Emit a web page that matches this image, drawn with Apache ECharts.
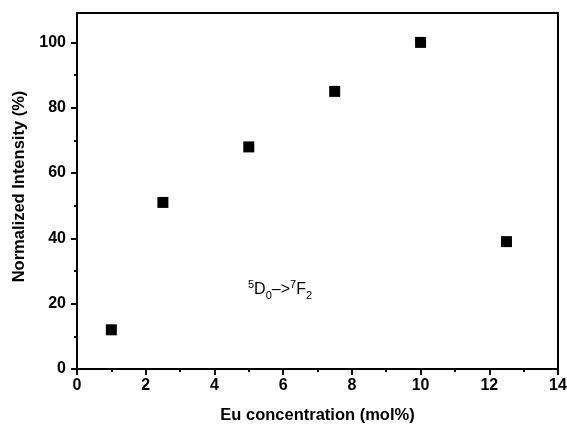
<!DOCTYPE html>
<html>
<head>
<meta charset="utf-8">
<script src="https://cdn.jsdelivr.net/npm/echarts@6/dist/echarts.min.js"></script>
<style>
  html, body { margin: 0; padding: 0; background: #fff; }
  #chart { width: 567px; height: 427px; }
</style>
</head>
<body>
<div id="chart"></div>
<script>
// Eu concentration vs normalized intensity
var concentration = [1, 2.5, 5, 7.5, 10, 12.5]
var intensity = [12, 51, 68, 85, 100, 39]
var yMajorTicks = [0, 20, 40, 60, 80, 100]
var yMinorTicks = [10, 30, 50, 70, 90]

var font = 'Arial, "Liberation Sans", sans-serif'
var myChart = echarts.init(document.getElementById('chart'))

var points = concentration.map(function(x, i) {
    return [x, intensity[i]]
})

var option = {
    animation: false,
    grid: {
        left: 77,
        right: 9,
        top: 13,
        bottom: 58,
        outerBoundsMode: 'none',
        show: true,
        borderColor: '#000',
        borderWidth: 2
    },
    xAxis: {
        type: 'value',
        min: 0,
        max: 14,
        interval: 2,
        name: 'Eu concentration (mol%)',
        nameLocation: 'middle',
        nameGap: 38,
        nameTextStyle: { fontFamily: font, fontWeight: 'bold', fontSize: 16.5, color: '#000' },
        splitLine: { show: false },
        axisLine: { show: true, lineStyle: { color: '#000', width: 2 } },
        axisTick: { show: true, length: 6, lineStyle: { color: '#000', width: 2 } },
        minorTick: { show: true, splitNumber: 2, length: 3, lineStyle: { color: '#000', width: 2 } },
        axisLabel: { margin: 9, fontFamily: font, fontWeight: 'bold', fontSize: 16, color: '#000' }
    },
    yAxis: [{
        type: 'value',
        min: 0,
        max: 109,
        name: 'Normalized Intensity (%)',
        nameLocation: 'middle',
        nameGap: 48,
        nameTextStyle: { fontFamily: font, fontWeight: 'bold', fontSize: 16.5, color: '#000', padding: [0, 0, 0, 9] },
        splitLine: { show: false },
        axisLine: { show: true, lineStyle: { color: '#000', width: 2 } },
        axisTick: { show: true, length: 6, customValues: yMajorTicks, lineStyle: { color: '#000', width: 2 } },
        axisLabel: { margin: 11, customValues: yMajorTicks, fontFamily: font, fontWeight: 'bold', fontSize: 16, color: '#000' }
    }, {
        type: 'value',
        min: 0,
        max: 109,
        position: 'left',
        splitLine: { show: false },
        axisLine: { show: false },
        axisTick: { show: true, length: 3, customValues: yMinorTicks, lineStyle: { color: '#000', width: 2 } },
        axisLabel: { show: false }
    }],
    series: [{
        type: 'scatter',
        data: points,
        symbol: 'rect',
        symbolSize: 11,
        itemStyle: { color: '#000', opacity: 1 }
    }],
    graphic: [{
        type: 'text',
        left: 248,
        top: 279,
        style: {
            text: '{sup|5}{m|D}{sub|0}{m|–>}{sup|7}{m|F}{sub|2}',
            rich: {
                m: { fontFamily: font, fontSize: 16, color: '#000', lineHeight: 22, verticalAlign: 'middle' },
                sup: { fontFamily: font, fontSize: 11, color: '#000', lineHeight: 22, verticalAlign: 'top' },
                sub: { fontFamily: font, fontSize: 11, color: '#000', lineHeight: 22, verticalAlign: 'bottom', padding: [8, 0, 0, 0] }
            }
        }
    }]
}
myChart.setOption(option)
</script>
</body>
</html>
